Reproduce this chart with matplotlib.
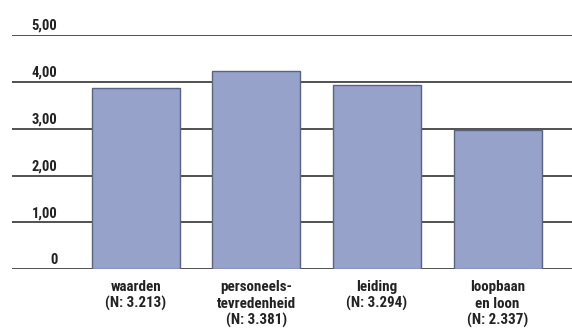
import matplotlib
matplotlib.use("Agg")
import matplotlib.pyplot as plt
from matplotlib.transforms import blended_transform_factory, offset_copy

categories = ["waarden\n(N: 3.213)", "personeels-\ntevredenheid\n(N: 3.381)",
              "leiding\n(N: 3.294)", "loopbaan\nen loon\n(N: 2.337)"]
values = [3.87, 4.23, 3.94, 2.97]
yticks = [0, 1, 2, 3, 4, 5]
ytick_labels = ["0", "1,00", "2,00", "3,00", "4,00", "5,00"]

plt.rcParams['font.family'] = ["Roboto Condensed", "DejaVu Sans"]

W, H = 572, 331
fig = plt.figure(figsize=(W / 100, H / 100), dpi=100)
ax_left = 12 / W
ax_bottom = (H - 269.3) / H
ax_height = (269.3 - 35) / H
ax = fig.add_axes([ax_left, ax_bottom, 1 - ax_left, ax_height])

x = list(range(len(values)))
ax.set_xlim(-1.027, 3.617)
ax.set_ylim(0, 5)
for v in yticks:
    ax.axhline(v, color="#222222", lw=1.1, zorder=1)
ax.bar(x, values, width=0.73, color="#96A2CA", edgecolor="#5B6282", linewidth=1.0, zorder=3)

for s in ax.spines.values():
    s.set_visible(False)
ax.set_xticks([])
ax.set_yticks([])

tr = blended_transform_factory(fig.transFigure, ax.transData)
tr_up = offset_copy(tr, fig=fig, x=0, y=5, units="dots")
for v, lab in zip(yticks, ytick_labels):
    ax.text(57.5 / W, v, lab, transform=tr_up, ha="right", va="baseline",
            fontsize=10.5, fontweight="bold", color="#222222")

tr2 = blended_transform_factory(ax.transData, fig.transFigure)
baselines_px = [291.0, 307.7, 324.4]
for xi, lab in zip(x, categories):
    for line, yb in zip(lab.split("\n"), baselines_px):
        ax.text(xi, 1 - yb / H, line, transform=tr2, ha="center", va="baseline",
                fontsize=10.8, fontweight="bold", color="#222222")

fig.savefig("out.png", dpi=100)
